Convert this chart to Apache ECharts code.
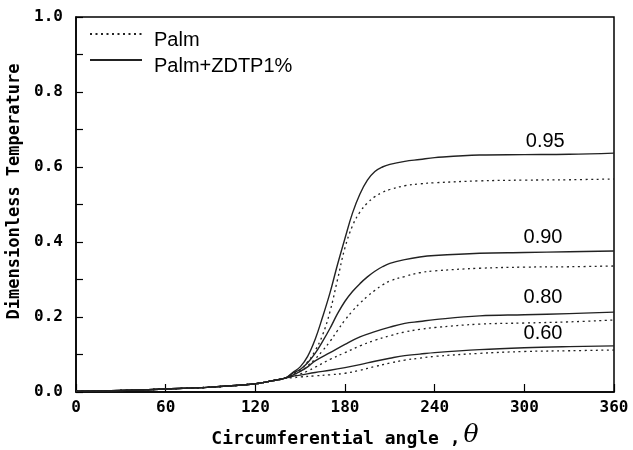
<!DOCTYPE html>
<html>
<head>
<meta charset="utf-8">
<script src="https://cdn.jsdelivr.net/npm/echarts@6/dist/echarts.min.js"></script>
<style>html,body{margin:0;padding:0;background:#fff;}#c{width:633px;height:450px;}</style>
</head>
<body>
<div id="c"></div>
<script>
// ---- data (theta in degrees, dimensionless temperature) ----
var xTicks = [0, 60, 120, 180, 240, 300, 360];
var curveLabels = ['0.95', '0.90', '0.80', '0.60'];
var labelAt = [[314, 0.669], [312.5, 0.411], [312.5, 0.253], [312.5, 0.157]];

var low = [[0,0.002],[30,0.004],[60,0.008],[90,0.013],[120,0.022],[130,0.029],[140,0.037]];

var zdtp95 = [[145,0.052],[150,0.067],[155,0.095],[160,0.14],[165,0.2],[170,0.265],[175,0.34],[180,0.41],[185,0.477],[190,0.528],[195,0.565],[200,0.588],[205,0.6],[210,0.607],[220,0.615],[230,0.62],[240,0.625],[270,0.632],[300,0.633],[330,0.634],[360,0.637]];
var palm95 = [[145,0.048],[150,0.06],[155,0.08],[160,0.11],[165,0.152],[170,0.215],[175,0.3],[180,0.385],[185,0.443],[190,0.48],[195,0.504],[200,0.521],[205,0.532],[210,0.54],[220,0.55],[230,0.555],[240,0.558],[270,0.563],[300,0.565],[330,0.566],[360,0.568]];

var zdtp90 = [[145,0.05],[150,0.06],[155,0.078],[160,0.103],[165,0.135],[170,0.17],[175,0.209],[180,0.242],[185,0.268],[190,0.289],[195,0.307],[200,0.322],[205,0.334],[210,0.343],[220,0.353],[230,0.36],[240,0.364],[270,0.37],[300,0.372],[330,0.374],[360,0.376]];
var palm90 = [[145,0.047],[150,0.055],[155,0.07],[160,0.088],[165,0.11],[170,0.135],[175,0.164],[180,0.192],[185,0.216],[190,0.237],[195,0.255],[200,0.271],[205,0.285],[210,0.296],[220,0.308],[230,0.318],[240,0.323],[270,0.33],[300,0.333],[330,0.334],[360,0.336]];

var zdtp80 = [[145,0.045],[150,0.055],[155,0.067],[160,0.083],[170,0.105],[180,0.127],[190,0.147],[200,0.161],[210,0.173],[220,0.183],[230,0.188],[240,0.193],[270,0.203],[300,0.206],[330,0.209],[360,0.213]];
var palm80 = [[145,0.042],[150,0.048],[155,0.056],[160,0.066],[170,0.087],[180,0.105],[190,0.123],[200,0.138],[210,0.15],[220,0.16],[230,0.167],[240,0.172],[270,0.181],[300,0.184],[330,0.187],[360,0.192]];

var zdtp60 = [[145,0.042],[150,0.045],[160,0.052],[170,0.058],[180,0.065],[190,0.073],[200,0.082],[210,0.09],[220,0.097],[230,0.101],[240,0.105],[270,0.113],[300,0.118],[330,0.121],[360,0.123]];
var palm60 = [[145,0.038],[150,0.04],[160,0.043],[170,0.046],[180,0.05],[190,0.058],[200,0.068],[210,0.077],[220,0.085],[230,0.09],[240,0.095],[270,0.103],[300,0.108],[330,0.11],[360,0.112]];

var zdtpSets = [zdtp95, zdtp90, zdtp80, zdtp60];
var palmSets = [palm95, palm90, palm80, palm60];

// ---- chart ----
var monoFont = 'DejaVu Sans Mono';
var series = [];
palmSets.forEach(function (d) {
  series.push({
    name: 'Palm', type: 'line', data: low.concat(d), symbol: 'none',
    smooth: 0.4, silent: true,
    lineStyle: { color: '#222', width: 1.3, type: [2, 3.5] }, itemStyle: { color: '#222', opacity: 0 }
  });
});
zdtpSets.forEach(function (d, i) {
  series.push({
    name: 'Palm+ZDTP1%', type: 'line', data: low.concat(d), symbol: 'none',
    smooth: 0.4, silent: true,
    lineStyle: { color: '#222', width: 1.4, type: 'solid' }, itemStyle: { color: '#222', opacity: 0 },
    markPoint: {
      symbol: 'circle', symbolSize: 0, silent: true,
      itemStyle: { opacity: 1 },
      label: { show: true, position: 'inside', formatter: curveLabels[i], color: '#000',
               fontFamily: 'Liberation Sans', fontSize: 20 },
      data: [{ coord: labelAt[i] }]
    }
  });
});

var chart = echarts.init(document.getElementById('c'), null, { renderer: 'canvas' });
chart.setOption({
  animation: false,
  backgroundColor: '#fff',
  grid: { left: 76, right: 19, top: 17, bottom: 58, show: true, borderColor: '#000', borderWidth: 1.5,
          containLabel: false, outerBoundsMode: 'none' },
  legend: {
    data: ['Palm', 'Palm+ZDTP1%'], orient: 'vertical', left: 84, top: 13,
    itemWidth: 52, itemHeight: 14, itemGap: -6, selectedMode: false,
    itemStyle: { opacity: 0 },
    formatter: '{t|{name}}',
    textStyle: { fontFamily: 'Liberation Sans', fontSize: 20, color: '#000', padding: [0, 0, 0, 7],
      rich: { t: { fontFamily: 'Liberation Sans', fontSize: 20, color: '#000', lineHeight: 14, padding: [12, 0, 0, 0] } } }
  },
  xAxis: {
    type: 'value', min: 0, max: 360, interval: 60,
    name: '{a|Circumferential angle ,}{b|θ}', nameLocation: 'middle', nameGap: 31,
    nameTextStyle: { rich: {
      a: { fontFamily: monoFont, fontWeight: 'bold', fontSize: 18, color: '#000', verticalAlign: 'bottom' },
      b: { fontFamily: 'DejaVu Serif', fontStyle: 'italic', fontSize: 25, color: '#000', padding: [0, 0, 0, 3] }
    } },
    axisLine: { lineStyle: { color: '#000', width: 1.5 } },
    axisTick: { inside: true, length: 8, lineStyle: { color: '#000', width: 1.2 } },
    axisLabel: { fontFamily: monoFont, fontWeight: 'bold', fontSize: 16, color: '#000', margin: 8,
                 formatter: function (v) { return xTicks.indexOf(v) >= 0 ? String(v) : ''; } },
    splitLine: { show: false }
  },
  yAxis: {
    type: 'value', min: 0, max: 1, interval: 0.1,
    name: 'Dimensionless Temperature', nameLocation: 'middle', nameGap: 53,
    nameTextStyle: { fontFamily: monoFont, fontWeight: 'bold', fontSize: 17, color: '#000', padding: [0, 0, 0, 26] },
    axisLine: { lineStyle: { color: '#000', width: 1.5 } },
    axisTick: { inside: true, length: 7, lineStyle: { color: '#000', width: 1.2 } },
    axisLabel: { fontFamily: monoFont, fontWeight: 'bold', fontSize: 16, color: '#000', margin: 13,
                 formatter: function (v) { var k = Math.round(v * 10); return k % 2 === 0 ? (k / 10).toFixed(1) : ''; } },
    splitLine: { show: false }
  },
  series: series
});
</script>
</body>
</html>
